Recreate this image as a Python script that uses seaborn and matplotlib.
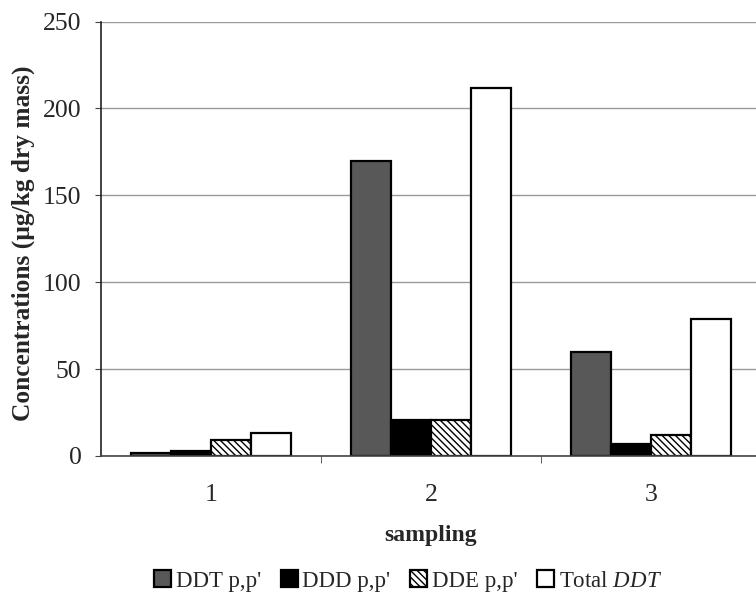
import matplotlib
matplotlib.use("Agg")
import matplotlib.pyplot as plt
import seaborn as sns
import pandas as pd

samplings = ["1", "2", "3"]
series_names = ["DDT p,p'", "DDD p,p'", "DDE p,p'", "Total $\\it{DDT}$"]
ddt = [2, 170, 60]
ddd = [3, 21, 7]
dde = [9, 21, 12]
total = [13, 212, 79]
y_ticks = [0, 50, 100, 150, 200, 250]

rows = []
for name, vals in zip(series_names, [ddt, ddd, dde, total]):
    for s, v in zip(samplings, vals):
        rows.append({"sampling": s, "series": name, "value": v})
df = pd.DataFrame(rows)

sns.set_style("white")
plt.rcParams['font.family'] = ['Liberation Serif', 'DejaVu Serif']
plt.rcParams['mathtext.fontset'] = 'custom'
plt.rcParams['mathtext.it'] = 'Liberation Serif:italic'
plt.rcParams['mathtext.rm'] = 'Liberation Serif'
plt.rcParams['hatch.linewidth'] = 1.0

fig = plt.figure(figsize=(7.56, 6.01), dpi=100)
ax = fig.add_axes([101/756, 1-456/601, 660/756, (456-21.5)/601])

palette = ["#585858", "#000000", "#ffffff", "#ffffff"]
sns.barplot(data=df, x="sampling", y="value", hue="series", hue_order=series_names,
            palette=palette, width=0.727, edgecolor="black", linewidth=1.6,
            saturation=1, ax=ax, legend=True)

hatches = [None, None, "\\\\\\\\\\", None]
for cont, h in zip(ax.containers, hatches):
    for p in cont:
        if h:
            p.set_hatch(h)

ax.set_xlim(-0.5, 2.5)
ax.set_ylim(0, 250)
ax.set_yticks(y_ticks)
ax.yaxis.grid(True, color="#999999", linewidth=1.0)
ax.set_axisbelow(True)
for s in ["top", "right"]:
    ax.spines[s].set_visible(False)
ax.spines["left"].set_color("#222222")
ax.spines["bottom"].set_color("#444444")
ax.spines["left"].set_linewidth(1.2)
ax.spines["bottom"].set_linewidth(1.2)

ax.tick_params(axis="y", which="major", length=4, direction="out", left=True,
               labelsize=18.5, pad=10, color="#444444")
ax.tick_params(axis="x", which="major", length=0, labelsize=18.5, pad=20)
ax.set_xticks([0.5, 1.5], minor=True)
ax.tick_params(axis="x", which="minor", length=5, direction="out", bottom=True, color="#444444")

ax.set_xlabel("sampling", fontsize=17, fontweight="bold", labelpad=14)
ax.set_ylabel("Concentrations (µg/kg dry mass)", fontsize=18.3, fontweight="bold")
ax.yaxis.set_label_coords(-0.1, 0.49)

handles, labels = ax.get_legend_handles_labels()
ax.get_legend().remove()
for hnd, h in zip(handles, hatches):
    if h:
        hnd.set_hatch(h)
fig.legend(handles, labels, loc="center", bbox_to_anchor=(408/756, 1-581/601),
           ncol=4, frameon=False, fontsize=16.5, handlelength=0.75, handleheight=0.75,
           handletextpad=0.2, columnspacing=0.85)

fig.savefig("out.png", dpi=100)
